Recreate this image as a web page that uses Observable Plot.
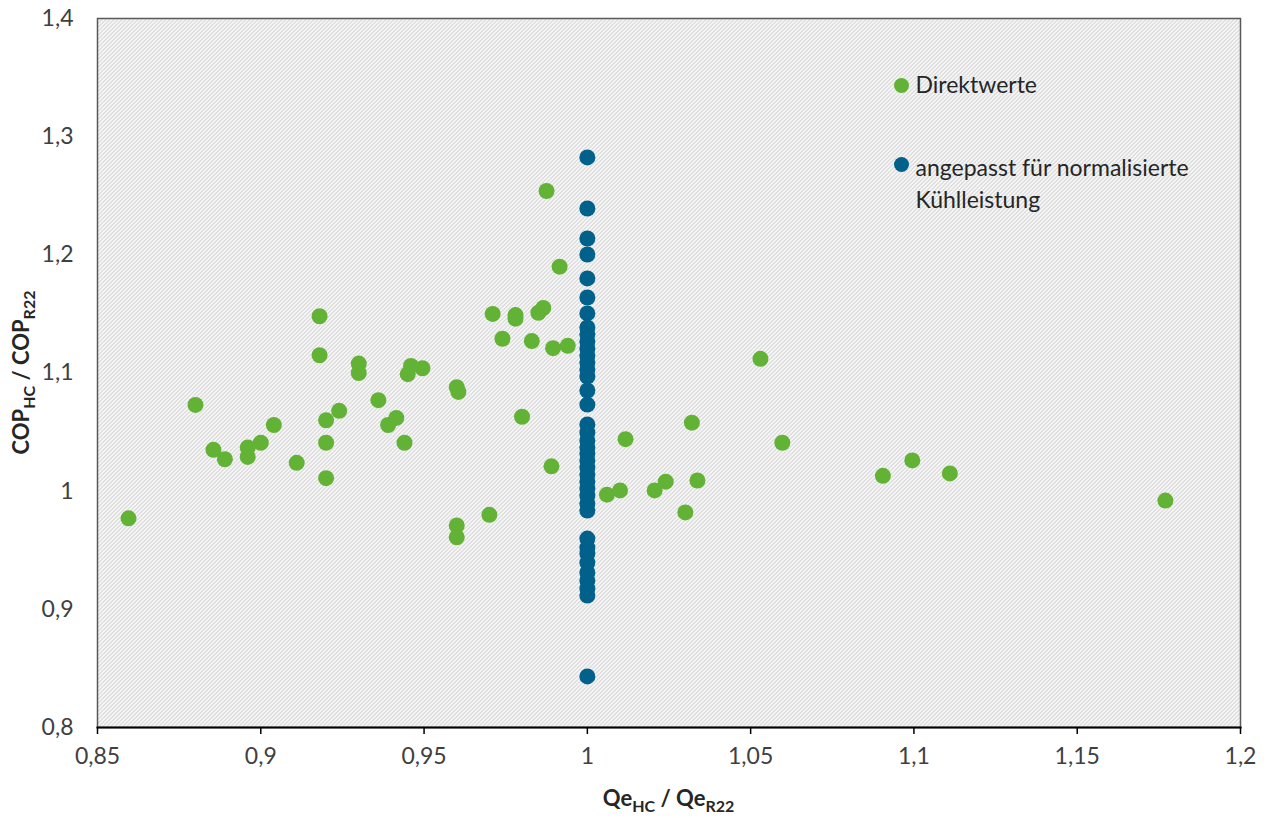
<!DOCTYPE html>
<html>
<head>
<meta charset="utf-8">
<script src="https://cdn.jsdelivr.net/npm/d3@7"></script>
<script src="https://cdn.jsdelivr.net/npm/@observablehq/plot@0.6"></script>
<style>
  html, body { margin: 0; padding: 0; background: white; }
  #chart { width: 1266px; height: 818px; }
</style>
</head>
<body>
<div id="chart"></div>
<script>
// Series: Direktwerte (green)
const direktX = [0.8595,0.880,0.8855,0.889,0.896,0.896,0.900,0.904,0.911,0.918,0.918,0.920,0.920,0.920,0.924,0.930,0.930,0.936,0.939,0.9415,0.944,0.945,0.946,0.9495,0.960,0.9605,0.960,0.960,0.970,0.971,0.974,0.978,0.978,0.980,0.983,0.985,0.9865,0.9875,0.9895,0.989,0.9915,0.994,1.006,1.010,1.0117,1.0206,1.024,1.030,1.032,1.0337,1.053,1.0597,1.0905,1.0995,1.111,1.177];
const direktY = [0.977,1.073,1.035,1.027,1.037,1.029,1.041,1.056,1.024,1.148,1.115,1.060,1.041,1.011,1.068,1.108,1.100,1.077,1.056,1.062,1.041,1.099,1.106,1.104,1.088,1.084,0.971,0.961,0.980,1.150,1.129,1.149,1.146,1.063,1.127,1.151,1.155,1.254,1.121,1.021,1.190,1.123,0.997,1.0006,1.044,1.0006,1.008,0.982,1.058,1.009,1.112,1.041,1.013,1.026,1.015,0.992];

// Series: angepasst für normalisierte Kühlleistung (blue), all at Qe ratio = 1
const angepasstY = [1.2824,1.2392,1.2138,1.2003,1.1800,1.1639,1.1504,1.1386,1.1327,1.1267,1.1208,1.1148,1.1089,1.1030,1.0970,1.0852,1.0733,1.0564,1.0496,1.0429,1.0370,1.0319,1.0260,1.0200,1.0141,1.0082,1.0022,0.9963,0.9896,0.9836,0.9599,0.9523,0.9472,0.9396,0.9312,0.9244,0.9176,0.9117,0.8432];
const angepasstX = angepasstY.map(() => 1);

const xTicks = [0.85,0.9,0.95,1,1.05,1.1,1.15,1.2];
const yTicks = [0.8,0.9,1,1.1,1.2,1.3,1.4];
const legendLabels = ["Direktwerte", "angepasst für normalisierte\nKühlleistung"];

const GREEN = "#62b236";
const BLUE = "#02618a";

const direkt = direktX.map((x, i) => ({x, y: direktY[i]}));
const angepasst = angepasstX.map((x, i) => ({x, y: angepasstY[i]}));
const fmt = d => String(+d.toFixed(2)).replace(".", ",");

const FONT = "Lato, 'Open Sans', sans-serif";

const plot = Plot.plot({
  width: 1266,
  height: 818,
  marginLeft: 97,
  marginRight: 26,
  marginTop: 18,
  marginBottom: 91,
  style: {fontFamily: FONT, fontSize: "23px", color: "#404040", background: "white"},
  x: {domain: [0.85, 1.2], label: null},
  y: {domain: [0.8, 1.4], label: null},
  marks: [
    Plot.frame({fill: "url(#hatch)", stroke: "#595959", strokeWidth: 1.5}),
    Plot.axisX({ticks: xTicks, tickFormat: fmt, tickSize: 7, tickPadding: 13, stroke: "black", strokeWidth: 1.5, fontSize: 23, fill: "#404040", label: null}),
    Plot.axisY({ticks: yTicks, tickFormat: fmt, tickSize: 0, tickPadding: 24, fontSize: 23, fill: "#404040", label: null}),
    Plot.frame({anchor: "bottom", stroke: "black", strokeWidth: 2}),
    Plot.dot(direkt, {x: "x", y: "y", r: 8, fill: GREEN}),
    Plot.dot(angepasst, {x: "x", y: "y", r: 8, fill: BLUE}),
    // legend
    Plot.dot([legendLabels[0]], {frameAnchor: "top-left", dx: 804, dy: 67, r: 7.5, fill: GREEN}),
    Plot.text([legendLabels[0]], {text: d => d, frameAnchor: "top-left", dx: 818, dy: 67, textAnchor: "start", lineAnchor: "middle", fontSize: 23, fill: "#262626"}),
    Plot.dot([legendLabels[1]], {frameAnchor: "top-left", dx: 804, dy: 146, r: 7.5, fill: BLUE}),
    Plot.text([legendLabels[1]], {text: d => d, frameAnchor: "top-left", dx: 818, dy: 163, textAnchor: "start", lineAnchor: "middle", lineHeight: 1.43, fontSize: 23, fill: "#262626"})
  ]
});

// hatch pattern (pixel diagonal stripes)
const svg = d3.select(plot);
const defs = svg.insert("defs", ":first-child");
const pat = defs.append("pattern").attr("id", "hatch").attr("patternUnits", "userSpaceOnUse")
  .attr("width", 4).attr("height", 4);
pat.append("rect").attr("width", 4).attr("height", 4).attr("fill", "white");
// draw stripe as 1x1 pixel squares along the anti-diagonal, two pixels wide
const px = [[3,0],[2,1],[1,2],[0,3],[0,0],[3,1],[2,2],[1,3]];
const grey = "#c9c9c9";
px.slice(0, 4).forEach(([x, y]) => pat.append("rect").attr("x", x).attr("y", y).attr("width", 1).attr("height", 1).attr("fill", grey));
px.slice(4).forEach(([x, y]) => pat.append("rect").attr("x", x).attr("y", y).attr("width", 1).attr("height", 1).attr("fill", "#e2e2e2"));

// axis titles with subscripts
function title(sel, parts) {
  let shifted = false;
  parts.forEach(([t, sub]) => {
    const ts = sel.append("tspan").text(t);
    if (sub) {
      ts.attr("font-size", 16).attr("dy", shifted ? 0 : 6);
      shifted = true;
    } else {
      ts.attr("font-size", 22).attr("dy", shifted ? -6 : 0);
      shifted = false;
    }
  });
}
const xt = svg.append("text").attr("x", (97 + 1240) / 2).attr("y", 806)
  .attr("text-anchor", "middle").attr("font-weight", "bold").attr("fill", "#262626")
  .attr("font-family", FONT);
title(xt, [["Qe", false], ["HC", true], [" / Qe", false], ["R22", true]]);

const yt = svg.append("text").attr("transform", `translate(29,${(18 + 727) / 2}) rotate(-90)`)
  .attr("text-anchor", "middle").attr("font-weight", "bold").attr("fill", "#262626")
  .attr("font-family", FONT);
title(yt, [["COP", false], ["HC", true], [" / COP", false], ["R22", true]]);

document.getElementById("chart").appendChild(plot);
</script>
</body>
</html>
